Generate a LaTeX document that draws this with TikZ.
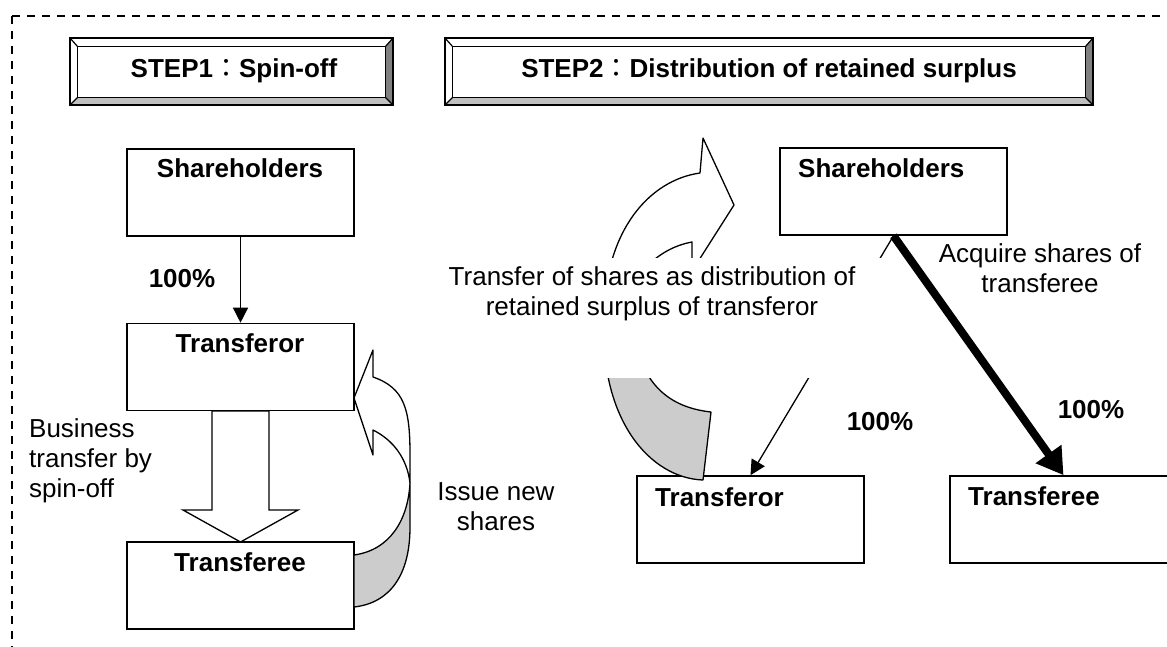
\documentclass[tikz,border=0pt]{standalone}
\usepackage{fontspec}
\setmainfont{Liberation Sans}
\newfontfamily\cjkfont{Noto Sans CJK TC}
\usetikzlibrary{arrows.meta}
\definecolor{bevdark}{HTML}{808080}
\definecolor{bevlight}{HTML}{C0C0C0}
\definecolor{arrgray}{HTML}{CCCCCC}
\newcommand\bevelfor[1]{%
  \fill[bevdark] ([shift={(-8,9)}]#1.north east) -- (#1.north east) -- (#1.south east) -- ([shift={(-8,-8)}]#1.south east) -- cycle;
  \fill[bevlight] ([shift={(8,-8)}]#1.south west) -- (#1.south west) -- (#1.south east) -- ([shift={(-8,-8)}]#1.south east) -- cycle;
  \draw[line width=1.2pt] ([shift={(8,9)}]#1.north west) rectangle ([shift={(-8,-8)}]#1.south east);
  \draw[line width=1.2pt] (#1.north west) -- ([shift={(8,9)}]#1.north west);
  \draw[line width=1.2pt] (#1.north east) -- ([shift={(-8,9)}]#1.north east);
  \draw[line width=1.2pt] (#1.south west) -- ([shift={(8,-8)}]#1.south west);
  \draw[line width=1.2pt] (#1.south east) -- ([shift={(-8,-8)}]#1.south east);
  \draw[line width=2pt] (#1.north west) rectangle (#1.south east);
}
\begin{document}
\begin{tikzpicture}[x=1pt,y=-1pt,
  box/.style={draw, rectangle, line width=1.6pt, fill=white, minimum width=227pt, minimum height=87pt, inner sep=0pt},
  banner/.style={rectangle, fill=white, minimum height=67pt, inner sep=0pt},
  lbl/.style={font=\fontsize{26}{30}\selectfont, inner sep=0pt},
  blbl/.style={font=\fontsize{26}{30}\selectfont\bfseries, inner sep=0pt},
  thinarrow/.style={line width=1.3pt, -{Triangle[length=15pt,width=15pt]}},
  thickarrow/.style={line width=8pt, -{Triangle[length=26pt,width=30pt]}},
  curvarr/.style={line width=1.3pt, line join=round},
  border/.style={line width=1.8pt, dash pattern=on 8pt off 7pt}]
\useasboundingbox (0,0) rectangle (1167,646);
\fill[white] (0,0) rectangle (1167,646);

% dashed frame
\draw[border] (12,16) -- (1200,16);
\draw[border] (12,16) -- (12,700);

% banners
\node[banner, minimum width=323pt] (b1) at (231.5,71.5) {};
\bevelfor{b1}
\node[blbl, anchor=base] (b1t) at (234,77) {STEP1{\cjkfont\mdseries ：}Spin-off};
\node[banner, minimum width=648pt] (b2) at (769,71.5) {};
\bevelfor{b2}
\node[blbl, anchor=base] (b2t) at (769,77) {STEP2{\cjkfont\mdseries ：}Distribution of retained surplus};

% step 1 boxes
\node[box] (sh1) at (240.5,192.5) {};
\node[box] (tor1) at (240.5,367) {};
\node[box] (tee1) at (240.5,585.5) {};
\node[blbl, anchor=base] (sh1t) at (240,177) {Shareholders};
\node[blbl, anchor=base] (tor1t) at (240,352) {Transferor};
\node[blbl, anchor=base] (tee1t) at (240,571) {Transferee};

% step 2 boxes
\node[box] (sh2) at (893.5,191.5) {};
\node[box] (tor2) at (750.5,519.5) {};
\node[box] (tee2) at (1063.5,519.5) {};
\node[blbl, anchor=base west] (sh2t) at (798,177) {Shareholders};
\node[blbl, anchor=base west] (tor2t) at (655,506) {Transferor};
\node[blbl, anchor=base west] (tee2t) at (968,505) {Transferee};

% step 1 connectors
\draw[thinarrow] (sh1.south) -- (tor1.north);
\node[blbl, anchor=base] (p1) at (182,287) {100\%};
\filldraw[fill=white, line width=1.3pt, line join=miter]
  (212,411) -- (212,510) -- (183,510) -- (240.5,542) -- (298,510) -- (269,510) -- (269,411) -- cycle;
\node[lbl, align=left, anchor=base west] (bt) at (29,497) {Business\\transfer by\\spin-off};

% step 1 U-turn arrow (issue new shares)
\filldraw[curvarr, fill=arrgray] (410,483) -- (410,527) .. controls (410,575) and (390,603) .. (354,607)
  -- (354,555) .. controls (390,550) and (408,520) .. (410,483) -- cycle;
\filldraw[curvarr, fill=white] (410,483) -- (410,455) .. controls (410,410) and (405,388) .. (373,377)
  -- (373,350) -- (354,398) -- (373,455) -- (373,430) .. controls (393,440) and (407,458) .. (410,483) -- cycle;
\node[lbl, align=center, anchor=base] (isn) at (496,530) {Issue new\\shares};

% step 2 curved arrow
\filldraw[curvarr, fill=arrgray] (604,320) .. controls (600,420) and (650,478) .. (703,480)
  -- (711,412) .. controls (675,408) and (645,390) .. (635,340) -- cycle;
\filldraw[curvarr, fill=white] (604,320) .. controls (604,230) and (650,180) .. (700,173)
  -- (703,138) -- (734,205) -- (692,271) -- (692,242) .. controls (676,245) and (662,252) .. (648,265)
  .. controls (638,276) and (634,295) .. (634,330) -- cycle;

% step 2 connectors
\draw[thinarrow] (sh2.south) -- (tor2.north);
\node[fill=white, minimum width=470pt, minimum height=120pt, inner sep=0pt] (cover) at (652,318) {};
\node[lbl, align=center, anchor=base] (dist) at (652,315) {Transfer of shares as distribution of\\retained surplus of transferor};
\draw[thickarrow] (sh2.south) -- (tee2.north);
\node[lbl, align=center, anchor=base] (acq) at (1040,292) {Acquire shares of\\transferee};
\node[blbl, anchor=base] (p2) at (880,430) {100\%};
\node[blbl, anchor=base] (p3) at (1091,418) {100\%};
\end{tikzpicture}
\end{document}
